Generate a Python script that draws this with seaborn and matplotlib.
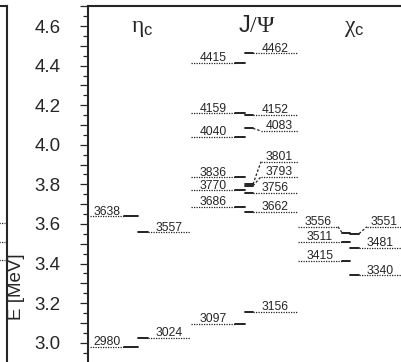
# %%
# Espectro do charmonium: níveis experimentais (esquerda) x modelo (direita)
import numpy as np
import pandas as pd
import matplotlib
matplotlib.use("Agg")
import matplotlib.pyplot as plt
import seaborn as sns
from matplotlib.ticker import MultipleLocator, FuncFormatter

# %%
# Dados (GeV)
eta_exp = [2.980, 3.638]
eta_model = [3.024, 3.557]
psi_exp = [3.097, 3.686, 3.770, 3.836, 4.040, 4.159, 4.415]
psi_model = [3.156, 3.662, 3.756, 3.793, 3.801, 4.083, 4.152, 4.462]
chi_exp = [3.415, 3.511, 3.556]
chi_model = [3.340, 3.481, 3.551]
prev_panel = [3.605, 3.509, 3.418]   # pontinhos do painel vizinho
headers = [r"$\mathrm{\eta}_\mathsf{c}$", r"$\mathsf{J}/\mathrm{\Psi}$", r"$\mathrm{\chi}_\mathsf{c}$"]

# %%
# Layout (x em pixels da figura)
cols = {
    "eta": dict(l_lead=90, l_solid=(124, 138), r_solid=(138, 148), r_lead=190, head=142.5),
    "psi": dict(l_lead=191, l_solid=(235, 245), r_solid=(245, 253), r_lead=298, head=256.5),
    "chi": dict(l_lead=298, l_solid=(342, 350), r_solid=(350, 359), r_lead=404, head=354.5),
}
# rótulos deslocados para não sobrepor
label_shift = {3556: 3.586, 3551: 3.586, 3801: 3.915, 3793: 3.839, 4083: 4.070}
ylim = (2.9025, 4.7014)

sns.set_theme(style="ticks")
plt.rcParams["font.family"] = ["Liberation Sans", "DejaVu Sans"]
plt.rcParams["mathtext.fontset"] = "custom"
plt.rcParams["mathtext.rm"] = "Liberation Serif"
plt.rcParams["mathtext.it"] = "Liberation Serif:italic"
plt.rcParams["mathtext.sf"] = "Liberation Sans"

rows = []
labels = []


def seg(x0, x1, e0, e1, kind):
    sid = len(rows) // 2
    rows.append(dict(seg=sid, x=x0, E=e0, kind=kind))
    rows.append(dict(seg=sid, x=x1, E=e1, kind=kind))


for name, exp_vals, mod_vals in [("eta", eta_exp, eta_model),
                                 ("psi", psi_exp, psi_model),
                                 ("chi", chi_exp, chi_model)]:
    c = cols[name]
    for e in exp_vals:
        mev = int(round(e * 1000))
        lab = label_shift.get(mev, e)
        x0, x1 = c["l_solid"]
        seg(x0, x1, e, e, "level")
        if lab == e:
            seg(c["l_lead"], x0, e, e, "leader")
            labels.append(((c["l_lead"] + x0) / 2, e, str(mev)))
        else:
            xe = x0 - 4
            seg(c["l_lead"], xe, lab, lab, "leader")
            seg(xe, x0, lab, e, "link")
            labels.append(((c["l_lead"] + xe) / 2, lab, str(mev)))
    for e in mod_vals:
        mev = int(round(e * 1000))
        lab = label_shift.get(mev, e)
        x0, x1 = c["r_solid"]
        seg(x0, x1, e, e, "level")
        if lab == e:
            seg(x1, c["r_lead"], e, e, "leader")
            labels.append(((x1 + min(c["r_lead"], 402)) / 2, e, str(mev)))
        else:
            xs = x1 + 8
            seg(x1, xs, e, lab, "link")
            seg(xs, c["r_lead"], lab, lab, "leader")
            labels.append(((xs + min(c["r_lead"], 402)) / 2, lab, str(mev)))

segs = pd.DataFrame(rows)

# %%
fig = plt.figure(figsize=(4.02, 3.62), dpi=100)
ax = fig.add_axes([88 / 402, 0, 1 - 88 / 402, 1 - 6 / 362])

sns.lineplot(data=segs[segs.kind == "level"], x="x", y="E", units="seg", estimator=None,
             sort=False, color="#111111", lw=1.3, legend=False, ax=ax)
sns.lineplot(data=segs[segs.kind == "leader"], x="x", y="E", units="seg", estimator=None,
             sort=False, color="#222222", lw=0.9, linestyle=(0, (1, 1)), legend=False, ax=ax)
sns.lineplot(data=segs[segs.kind == "link"], x="x", y="E", units="seg", estimator=None,
             sort=False, color="#222222", lw=0.9, linestyle=(0, (2, 1.5)), legend=False, ax=ax)

for x, y, t in labels:
    ax.annotate(t, (x, y), xytext=(0, 1.2), textcoords="offset points",
                ha="center", va="baseline", fontsize=8.7)

for name, h in zip(cols, headers):
    ax.text(cols[name]["head"], 4.570, h, ha="center", va="baseline", fontsize=17)

ax.set_xlim(88, 402)
ax.set_ylim(*ylim)
ax.set_xticks([])
ax.set_xlabel("")
ax.yaxis.set_major_locator(MultipleLocator(0.1))
ax.yaxis.set_minor_locator(MultipleLocator(0.05))
ax.yaxis.set_major_formatter(FuncFormatter(lambda v, p: f"{v:.1f}" if round(v * 10) % 2 == 0 else ""))
ax.tick_params(axis="y", which="major", length=5.8, width=0.9, pad=14, labelsize=13.5, direction="out")
ax.tick_params(axis="y", which="minor", length=3.6, width=0.9, direction="out")
for s in ["right", "bottom"]:
    ax.spines[s].set_visible(False)
for s in ["left", "top"]:
    ax.spines[s].set_linewidth(1.5)
ax.set_ylabel("E [MeV]", fontsize=13.5, va="center")
ax.yaxis.set_label_coords(-0.229, 0.211)

# painel vizinho (só a borda)
ax0 = fig.add_axes([-40 / 402, 0, 47 / 402, 1 - 6 / 362])
prev = pd.DataFrame({"seg": np.repeat(range(len(prev_panel)), 2),
                     "x": [-40, 5] * len(prev_panel),
                     "E": np.repeat(prev_panel, 2)})
sns.lineplot(data=prev, x="x", y="E", units="seg", estimator=None, sort=False,
             color="#222222", lw=0.9, linestyle=(0, (1, 1)), legend=False, ax=ax0)
ax0.set_xlim(-40, 7)
ax0.set_ylim(*ylim)
ax0.set_xticks([])
ax0.set_yticks([])
ax0.set_xlabel("")
ax0.set_ylabel("")
for s in ["left", "bottom"]:
    ax0.spines[s].set_visible(False)
for s in ["right", "top"]:
    ax0.spines[s].set_linewidth(1.5)

fig.savefig("out.png", dpi=100)
